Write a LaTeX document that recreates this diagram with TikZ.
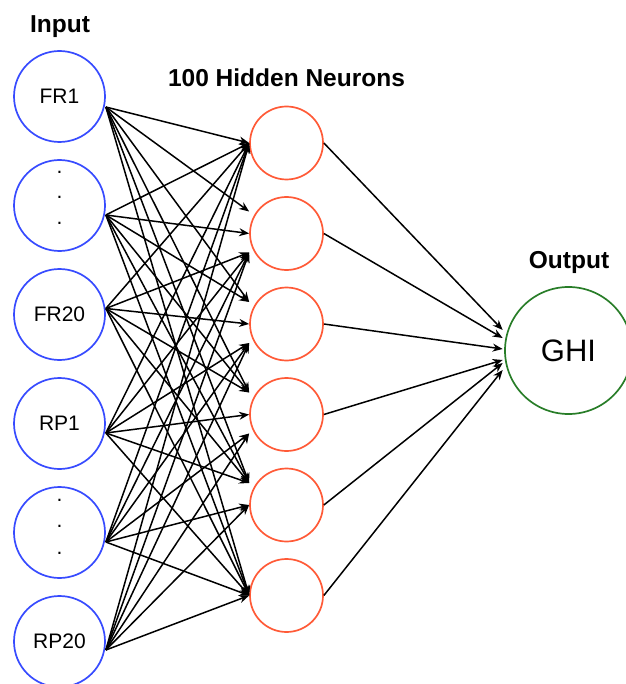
\documentclass[tikz,border=0pt]{standalone}
\usepackage{fontspec}
\setmainfont{Liberation Sans}
\usetikzlibrary{arrows.meta}
\definecolor{inblue}{RGB}{55,75,255}
\definecolor{hidred}{RGB}{255,90,55}
\definecolor{outgreen}{RGB}{40,125,40}
\tikzset{
  inneuron/.style={circle,draw=inblue,line width=1.7pt,minimum size=91pt,inner sep=0pt,font=\fontsize{21}{25}\selectfont},
  hidneuron/.style={circle,draw=hidred,line width=1.7pt,minimum size=73pt,inner sep=0pt},
  outneuron/.style={circle,draw=outgreen,line width=1.7pt,minimum size=127pt,inner sep=0pt,font=\fontsize{31}{36}\selectfont},
  heading/.style={font=\bfseries\fontsize{24.5}{29}\selectfont,anchor=base,inner sep=0pt},
  dotmark/.style={font=\fontsize{21}{25}\selectfont,anchor=base,inner sep=0pt},
  edge/.style={draw=black,line width=1.5pt,-{Stealth[length=10pt,width=8pt]}}
}
\begin{document}
\begin{tikzpicture}[x=1pt,y=-1pt]
\useasboundingbox (0,0) rectangle (625,684);
% headings
\node[heading] (tin) at (60,33) {Input};
\node[heading] (thid) at (286.5,87) {100 Hidden Neurons};
\node[heading] (tout) at (569,268) {Output};
% input layer
\node[inneuron] (in1) at (59.5,96.5) {FR1};
\node[inneuron] (in2) at (59.5,205.5) {};
\node[inneuron] (in3) at (59.5,314.5) {FR20};
\node[inneuron] (in4) at (59.5,423.5) {RP1};
\node[inneuron] (in5) at (59.5,532.5) {};
\node[inneuron] (in6) at (59.5,641.5) {RP20};
\node[dotmark] (d1a) at (59.5,174) {.};
\node[dotmark] (d1b) at (59.5,199) {.};
\node[dotmark] (d1c) at (59.5,225) {.};
\node[dotmark] (d2a) at (59.5,501) {.};
\node[dotmark] (d2b) at (59.5,527) {.};
\node[dotmark] (d2c) at (59.5,554) {.};
% hidden layer
\node[hidneuron] (h1) at (286.5,143) {};
\node[hidneuron] (h2) at (286.5,233.5) {};
\node[hidneuron] (h3) at (286.5,324) {};
\node[hidneuron] (h4) at (286.5,414.5) {};
\node[hidneuron] (h5) at (286.5,505) {};
\node[hidneuron] (h6) at (286.5,595.5) {};
% output
\node[outneuron] (out) at (568.5,350.5) {GHI};
% departure points
\path (in1.east) ++(0,10.5) coordinate (s1);
\path (in2.east) ++(0,9.5) coordinate (s2);
\path (in3.east) ++(0,-6) coordinate (s3);
\path (in4.east) ++(0,9.5) coordinate (s4);
\path (in5.east) ++(0,9.5) coordinate (s5);
\path (in6.east) ++(0,8.5) coordinate (s6);
% arrival points
\foreach \j in {1,...,6}{
  \path (h\j.west) coordinate (h\j M);
  \path (h\j.west) ++(0,-22) coordinate (h\j T);
  \path (h\j.west) ++(0,19) coordinate (h\j B);
}
% input -> hidden
\foreach \i/\j/\p in {
  1/1/M,2/1/M,3/1/M,4/1/M,5/1/M,6/1/M,
  1/2/T,2/2/M,3/2/B,4/2/B,5/2/B,6/2/B,
  1/3/T,2/3/T,3/3/M,4/3/B,5/3/B,6/3/B,
  1/4/T,2/4/T,3/4/T,4/4/M,5/4/B,6/4/B,
  1/5/T,2/5/T,3/5/T,4/5/T,5/5/M,6/5/M,
  1/6/M,2/6/M,3/6/M,4/6/M,5/6/M,6/6/M}{
  \draw[edge] (s\i) -- (h\j\p);
}
% hidden -> output
\path (out.west) ++(-1.5,-20.5) coordinate (o1);
\path (out.west) ++(-1.5,-12.5) coordinate (o2);
\path (out.west) ++(-1.5,-1.5) coordinate (o3);
\path (out.west) ++(-1.5,9.5) coordinate (o4);
\path (out.west) ++(-1.5,12.5) coordinate (o5);
\path (out.west) ++(-1.5,19.5) coordinate (o6);
\foreach \j in {1,...,6}{
  \draw[edge] (h\j.east) -- (o\j);
}
\end{tikzpicture}
\end{document}
